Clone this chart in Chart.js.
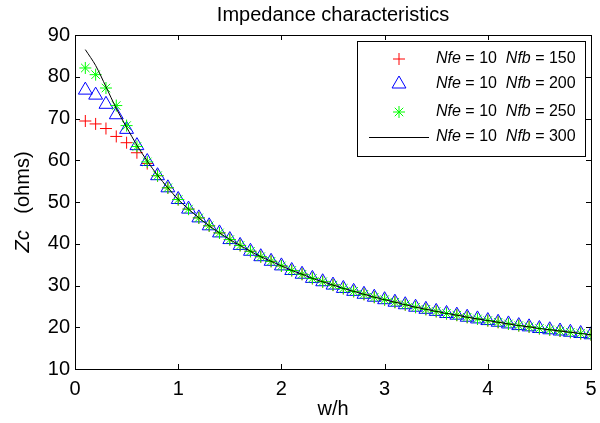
<!DOCTYPE html>
<html>
<head>
<meta charset="utf-8">
<script src="https://cdn.jsdelivr.net/npm/chart.js@4/dist/chart.umd.min.js"></script>
<style>
  html, body { margin: 0; padding: 0; background: #fff; }
  #wrap { width: 600px; height: 423px; position: relative; }
</style>
</head>
<body>
<div id="wrap"><canvas id="c" width="600" height="423"></canvas></div>
<script>
// ---- data ----
const chartTitle = 'Impedance characteristics';
const xLabel = 'w/h';
const yTicks = [10, 20, 30, 40, 50, 60, 70, 80, 90];
const xTicks = [0, 1, 2, 3, 4, 5];

const wh = [0.1,0.2,0.3,0.4,0.5,0.6,0.7,0.8,0.9,1.0,
            1.1,1.2,1.3,1.4,1.5,1.6,1.7,1.8,1.9,2.0,
            2.1,2.2,2.3,2.4,2.5,2.6,2.7,2.8,2.9,3.0,
            3.1,3.2,3.3,3.4,3.5,3.6,3.7,3.8,3.9,4.0,
            4.1,4.2,4.3,4.4,4.5,4.6,4.7,4.8,4.9,5.0];

const zcNfb150 = [69.4,68.7,67.6,65.7,64.2,61.8,59.2,56.3,53.4,50.6,
                  48.3,46.2,44.3,42.6,41.0,39.6,38.2,36.9,35.8,34.7,
                  33.6,32.7,31.7,30.9,30.1,29.3,28.6,27.9,27.2,26.6,
                  26.0,25.4,24.8,24.3,23.8,23.3,22.9,22.4,22.0,21.6,
                  21.2,20.8,20.4,20.1,19.7,19.4,19.1,18.8,18.5,18.2];

const zcNfb200 = [76.8,75.6,73.4,70.9,67.4,63.5,59.7,56.3,53.4,50.6,
                  48.3,46.2,44.3,42.6,41.0,39.6,38.2,36.9,35.8,34.7,
                  33.6,32.7,31.7,30.9,30.1,29.3,28.6,27.9,27.2,26.6,
                  26.0,25.4,24.8,24.3,23.8,23.3,22.9,22.4,22.0,21.6,
                  21.2,20.8,20.4,20.1,19.7,19.4,19.1,18.8,18.5,18.2];

const zcNfb250 = [82.1,80.5,77.3,73.1,68.3,63.3,59.6,56.3,53.4,50.6,
                  48.3,46.2,44.3,42.6,41.0,39.6,38.2,36.9,35.8,34.7,
                  33.6,32.7,31.7,30.9,30.1,29.3,28.6,27.9,27.2,26.6,
                  26.0,25.4,24.8,24.3,23.8,23.3,22.9,22.4,22.0,21.6,
                  21.2,20.8,20.4,20.1,19.7,19.4,19.1,18.8,18.5,18.2];

const zcNfb300 = [86.5,82.7,77.6,72.4,67.9,63.6,59.8,56.4,53.4,50.6,
                  48.3,46.2,44.3,42.6,41.0,39.6,38.2,36.9,35.8,34.7,
                  33.6,32.7,31.7,30.9,30.1,29.3,28.6,27.9,27.2,26.6,
                  26.0,25.4,24.8,24.3,23.8,23.3,22.9,22.4,22.0,21.6,
                  21.2,20.8,20.4,20.1,19.7,19.4,19.1,18.8,18.5,18.2];

const legendParts = [
  [['Nfe', true], [' = 10  ', false], ['Nfb', true], [' = 150', false]],
  [['Nfe', true], [' = 10  ', false], ['Nfb', true], [' = 200', false]],
  [['Nfe', true], [' = 10  ', false], ['Nfb', true], [' = 250', false]],
  [['Nfe', true], [' = 10  ', false], ['Nfb', true], [' = 300', false]]
];
const yLabelParts = [['Zc', true], ['   (ohms)', false]];

const FONT = "'Liberation Sans', Arial, Helvetica, sans-serif";
const AXFS = 20;

function pts(ys) { return wh.map((x, i) => ({ x: x, y: ys[i] })); }

function drawMarker(ctx, style, color, r, x, y) {
  ctx.save();
  ctx.strokeStyle = color; ctx.lineWidth = 1;
  ctx.beginPath();
  if (style === 'cross') {
    ctx.moveTo(x - r, y); ctx.lineTo(x + r, y);
    ctx.moveTo(x, y - r); ctx.lineTo(x, y + r);
  } else if (style === 'triangle') {
    const s = Math.sin(Math.PI / 3) * r;
    ctx.moveTo(x, y - r); ctx.lineTo(x + s, y + r / 2); ctx.lineTo(x - s, y + r / 2); ctx.closePath();
  } else if (style === 'star') {
    ctx.moveTo(x - r, y); ctx.lineTo(x + r, y);
    ctx.moveTo(x, y - r); ctx.lineTo(x, y + r);
    const d = r * Math.SQRT1_2;
    ctx.moveTo(x - d, y - d); ctx.lineTo(x + d, y + d);
    ctx.moveTo(x - d, y + d); ctx.lineTo(x + d, y - d);
  }
  ctx.stroke();
  ctx.restore();
}

function drawMixed(ctx, parts, size, startX, y) {
  let tx = startX;
  parts.forEach(p => {
    ctx.font = (p[1] ? 'italic ' : '') + size + 'px ' + FONT;
    ctx.fillText(p[0], tx, y);
    tx += ctx.measureText(p[0]).width;
  });
  return tx;
}
function mixedWidth(ctx, parts, size) {
  let w = 0;
  parts.forEach(p => { ctx.font = (p[1] ? 'italic ' : '') + size + 'px ' + FONT; w += ctx.measureText(p[0]).width; });
  return w;
}

const framePlugin = {
  id: 'frameAndLegend',
  afterDatasetsDraw(chart) {
    const ctx = chart.ctx, a = chart.chartArea;
    const xs = chart.scales.x, ys = chart.scales.y;
    ctx.save();
    // frame
    ctx.strokeStyle = '#000'; ctx.lineWidth = 1;
    ctx.strokeRect(Math.round(a.left) + 0.5, Math.round(a.top) + 0.5,
                   Math.round(a.right - a.left), Math.round(a.bottom - a.top));
    // inward ticks
    const tl = 5;
    ctx.beginPath();
    xTicks.forEach(v => {
      const px = Math.round(xs.getPixelForValue(v)) + 0.5;
      ctx.moveTo(px, a.bottom); ctx.lineTo(px, a.bottom - tl);
      ctx.moveTo(px, a.top); ctx.lineTo(px, a.top + tl);
    });
    yTicks.forEach(v => {
      const py = Math.round(ys.getPixelForValue(v)) + 0.5;
      ctx.moveTo(a.left, py); ctx.lineTo(a.left + tl, py);
      ctx.moveTo(a.right, py); ctx.lineTo(a.right - tl, py);
    });
    ctx.stroke();

    ctx.fillStyle = '#000';
    // title centred over plot area
    ctx.textAlign = 'center'; ctx.textBaseline = 'middle';
    ctx.font = AXFS + 'px ' + FONT;
    ctx.fillText(chartTitle, (a.left + a.right) / 2, 15);

    // y axis title with italic Zc
    ctx.save();
    ctx.translate(23, (a.top + a.bottom) / 2);
    ctx.rotate(-Math.PI / 2);
    ctx.textBaseline = 'middle'; ctx.textAlign = 'left';
    const tw = mixedWidth(ctx, yLabelParts, AXFS);
    drawMixed(ctx, yLabelParts, AXFS, -tw / 2, 0);
    ctx.restore();

    // legend box
    const lx = a.right - 234, ly = a.top + 6, lw = 228, lh = 115;
    ctx.fillStyle = '#fff';
    ctx.fillRect(lx, ly, lw, lh);
    ctx.strokeStyle = '#000';
    ctx.strokeRect(Math.round(lx) + 0.5, Math.round(ly) + 0.5, lw, lh);
    const rowY = [18, 43, 71, 96];
    chart.data.datasets.forEach((ds, i) => {
      const y = ly + rowY[i];
      if (ds.showLine) {
        ctx.strokeStyle = ds.borderColor; ctx.lineWidth = 1;
        ctx.beginPath(); ctx.moveTo(lx + 12, y + 0.5); ctx.lineTo(lx + 72, y + 0.5); ctx.stroke();
      } else {
        drawMarker(ctx, ds.pointStyle, ds.borderColor, ds.pointRadius, lx + 42, y);
      }
      ctx.fillStyle = '#000'; ctx.textBaseline = 'middle'; ctx.textAlign = 'left';
      drawMixed(ctx, legendParts[i], 16, lx + 79, y);
    });
    ctx.restore();
  }
};

new Chart(document.getElementById('c'), {
  type: 'scatter',
  data: {
    datasets: [
      { label: 'Nfe = 10 Nfb = 150', data: pts(zcNfb150), showLine: false,
        pointStyle: 'cross', pointRadius: 6, borderColor: '#ff0000', backgroundColor: 'rgba(0,0,0,0)',
        pointBorderWidth: 1, order: 3 },
      { label: 'Nfe = 10 Nfb = 200', data: pts(zcNfb200), showLine: false,
        pointStyle: 'triangle', pointRadius: 8, borderColor: '#0000ff', backgroundColor: 'rgba(0,0,0,0)',
        pointBorderWidth: 1, order: 2 },
      { label: 'Nfe = 10 Nfb = 250', data: pts(zcNfb250), showLine: false,
        pointStyle: 'star', pointRadius: 6, borderColor: '#00ff00', backgroundColor: 'rgba(0,0,0,0)',
        pointBorderWidth: 1, order: 1 },
      { label: 'Nfe = 10 Nfb = 300', data: pts(zcNfb300), showLine: true,
        pointRadius: 0, borderColor: '#000000', borderWidth: 1, tension: 0.3, order: 0 }
    ]
  },
  options: {
    responsive: false,
    animation: false,
    devicePixelRatio: 1,
    layout: { padding: { top: 35, right: 3, left: 0, bottom: 0 } },
    plugins: {
      legend: { display: false },
      tooltip: { enabled: false },
      title: { display: false }
    },
    scales: {
      x: {
        type: 'linear', min: 0, max: 5,
        grid: { display: false, drawTicks: false },
        border: { display: false },
        afterBuildTicks: s => { s.ticks = xTicks.map(v => ({ value: v })); },
        ticks: { color: '#000', padding: 8, font: { family: FONT, size: AXFS }, maxRotation: 0 },
        title: { display: true, text: xLabel, color: '#000', font: { family: FONT, size: AXFS }, padding: { top: 0, bottom: 2 } },
        afterFit: s => { s.height = 54; s.paddingLeft = 0; s.paddingRight = 0; }
      },
      y: {
        type: 'linear', min: 10, max: 90,
        grid: { display: false, drawTicks: false },
        border: { display: false },
        afterBuildTicks: s => { s.ticks = yTicks.map(v => ({ value: v })); },
        ticks: { color: '#000', padding: 5, font: { family: FONT, size: AXFS } },
        afterFit: s => { s.width = 75; s.paddingTop = 0; s.paddingBottom = 0; }
      }
    }
  },
  plugins: [framePlugin]
});
</script>
</body>
</html>
